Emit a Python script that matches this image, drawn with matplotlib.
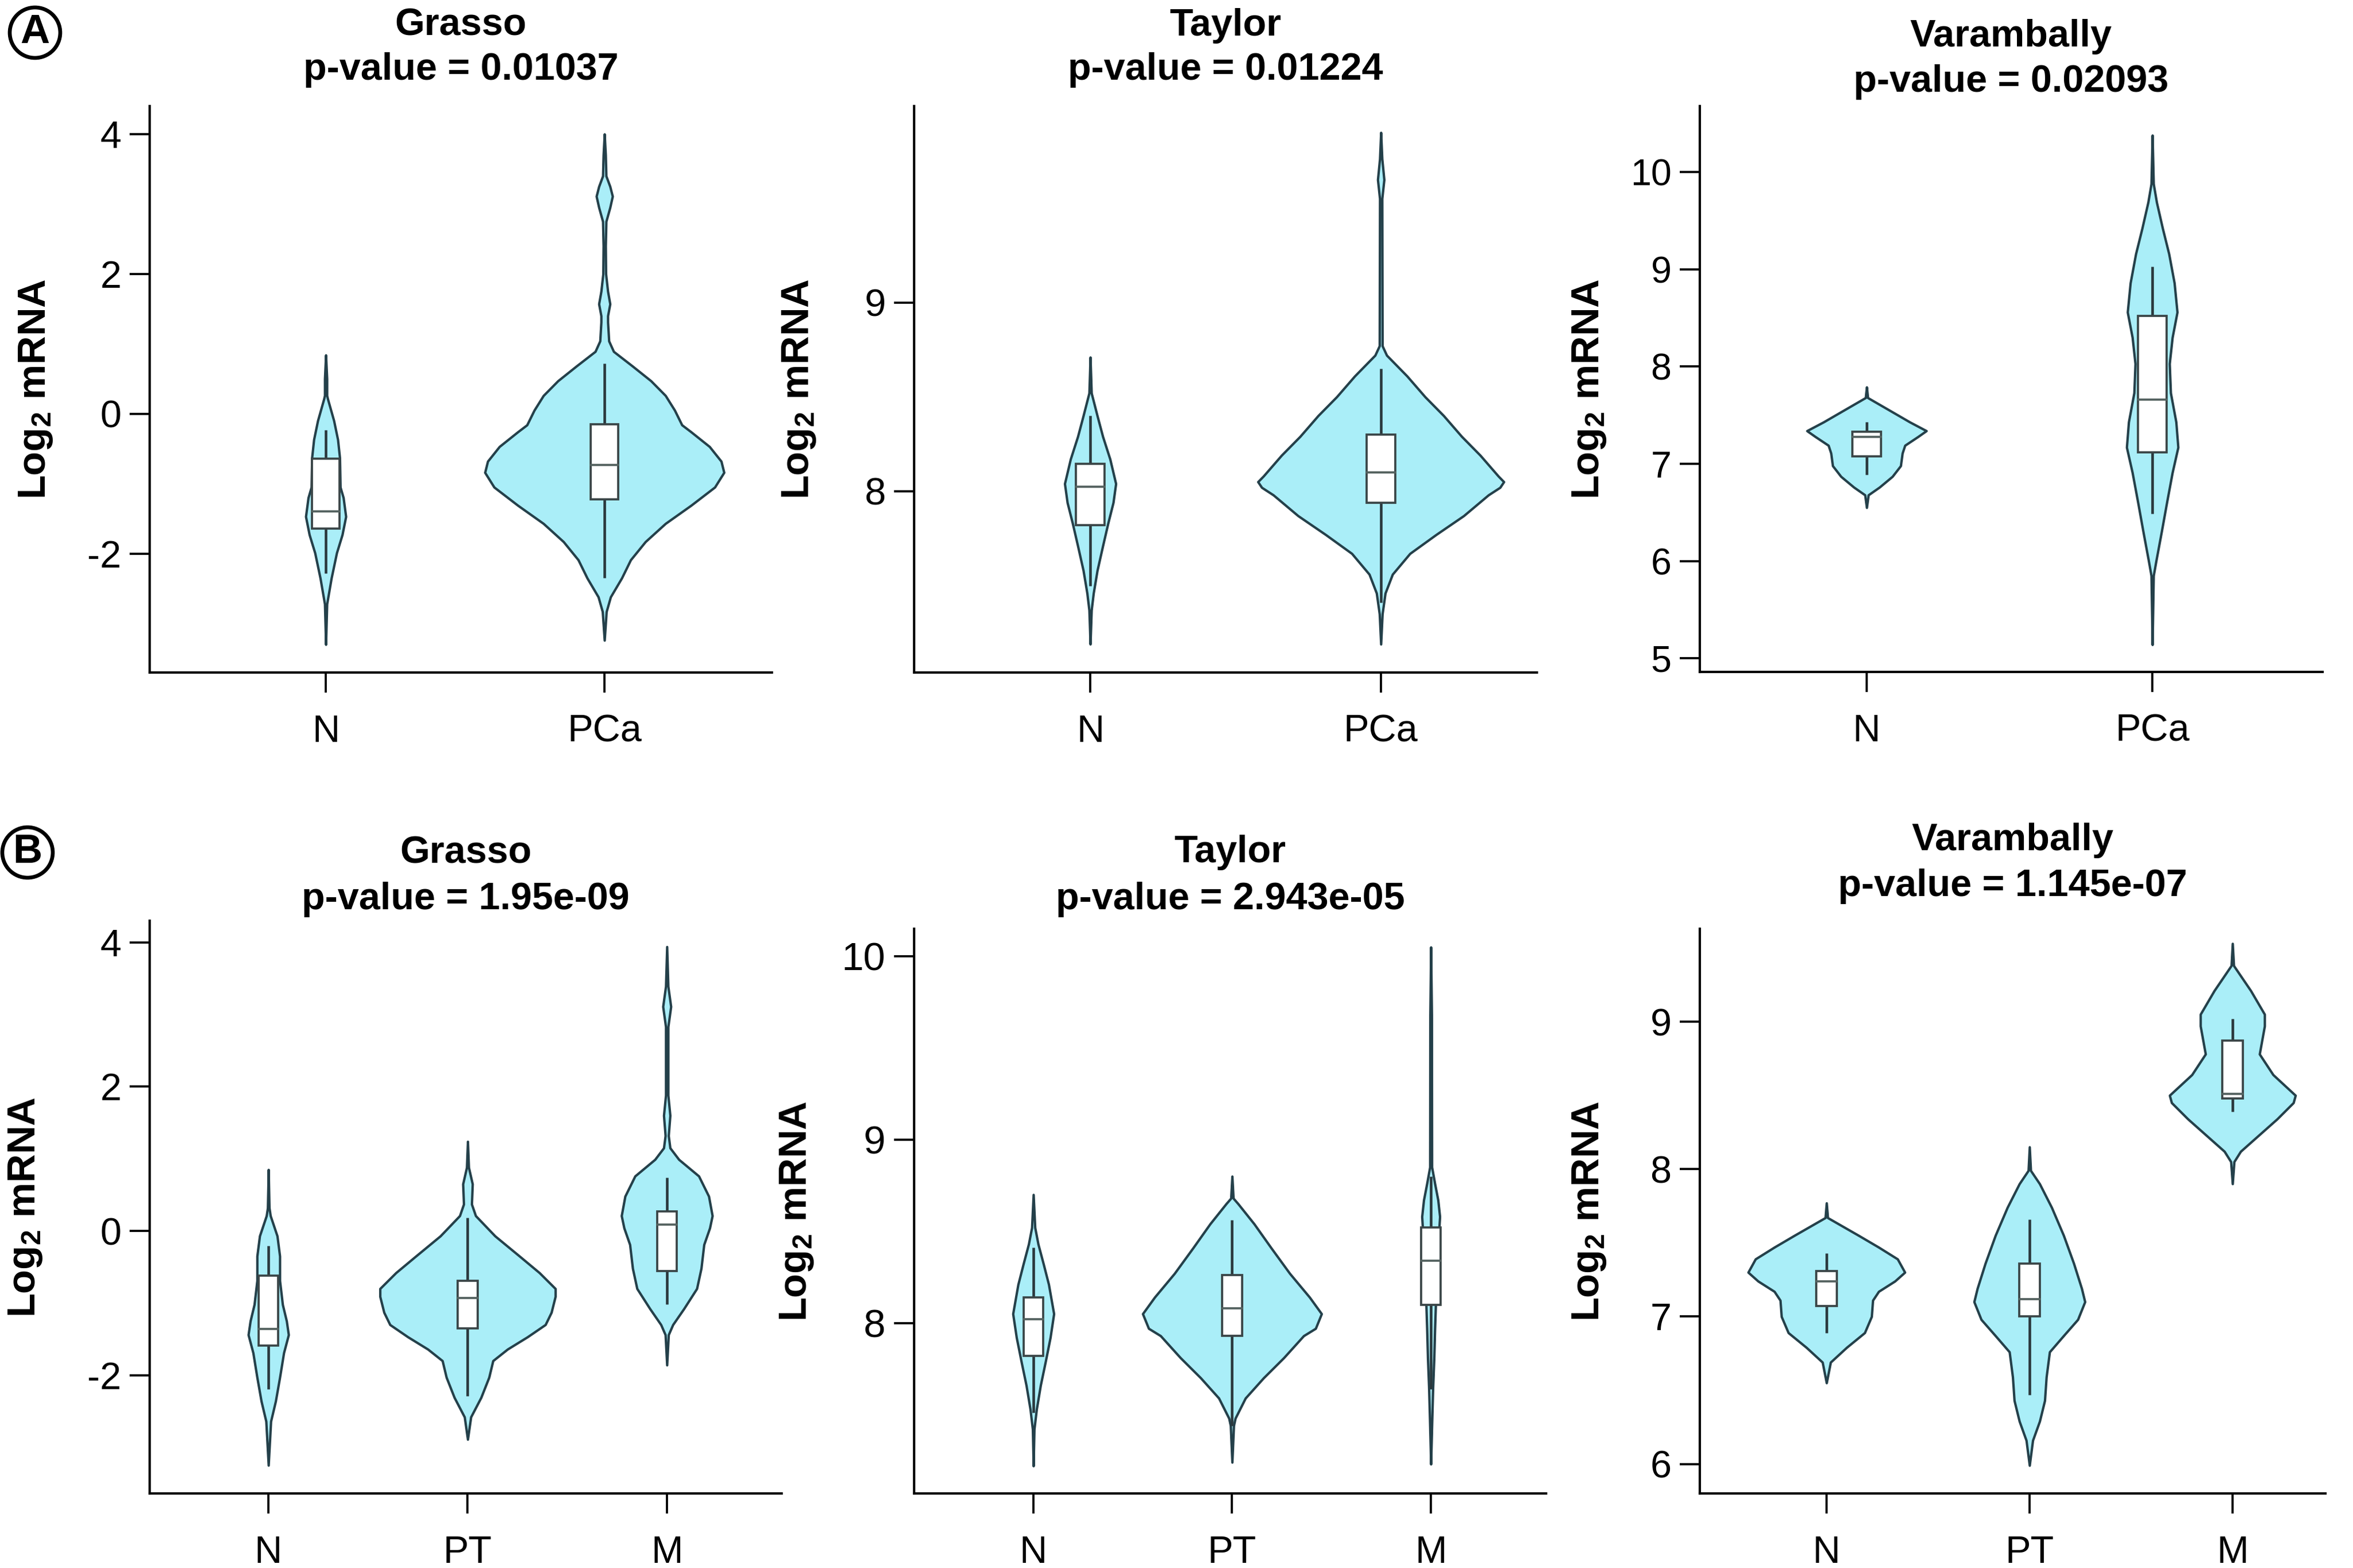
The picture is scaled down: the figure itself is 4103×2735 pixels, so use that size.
import numpy as np
import matplotlib
matplotlib.use("Agg")
import matplotlib.pyplot as plt
from matplotlib.patches import Rectangle, Ellipse

plt.rcParams['font.family'] = ['Liberation Sans', 'DejaVu Sans']
plt.rcParams['axes.unicode_minus'] = False
plt.rcParams['mathtext.default'] = 'regular'

# ---------------- data ----------------
CATS_A = ["N", "PCa"]
CATS_B = ["N", "PT", "M"]
TITLES = ["Grasso", "Taylor", "Varambally", "Grasso", "Taylor", "Varambally"]
PVALUES = ["0.01037", "0.01224", "0.02093", "1.95e-09", "2.943e-05", "1.145e-07"]
YTICKS = [[-2, 0, 2, 4], [8, 9], [5, 6, 7, 8, 9, 10],
          [-2, 0, 2, 4], [8, 9, 10], [6, 7, 8, 9]]
YLIMS = [(-3.70, 4.40), (7.04, 10.04), (4.86, 10.68),
         (-3.64, 4.30), (7.07, 10.15), (5.80, 9.63)]

# violin density profiles: y values and half-widths (x units)
A1_N_Y = [0.84, 0.50, 0.26, 0.21, -0.10, -0.37, -0.63, -1.05, -1.20, -1.47, -1.73, -1.99, -2.35, -2.72, -3.30]
A1_N_W = [0, 0.004, 0.004, 0.007, 0.029, 0.043, 0.050, 0.052, 0.063, 0.072, 0.059, 0.039, 0.020, 0.004, 0]
A1_PCA_Y = [4.00, 3.70, 3.40, 3.25, 3.11, 2.95, 2.75, 2.40, 2.00, 1.75, 1.57, 1.40, 1.31, 1.04, 0.89, 0.68,
            0.47, 0.26, 0.05, -0.16, -0.26, -0.47, -0.68, -0.84, -1.05, -1.31, -1.57, -1.83, -2.09, -2.35,
            -2.62, -2.83, -3.24]
A1_PCA_W = [0, 0.004, 0.006, 0.020, 0.029, 0.020, 0.006, 0.004, 0.005, 0.012, 0.020, 0.012, 0.012, 0.016,
            0.033, 0.101, 0.167, 0.219, 0.252, 0.278, 0.311, 0.377, 0.419, 0.429, 0.396, 0.311, 0.219, 0.147,
            0.094, 0.062, 0.022, 0.007, 0]

A2_N_Y = [8.71, 8.52, 8.40, 8.29, 8.17, 8.04, 7.94, 7.83, 7.71, 7.58, 7.46, 7.37, 7.19]
A2_N_W = [0, 0.004, 0.024, 0.043, 0.068, 0.088, 0.079, 0.061, 0.043, 0.024, 0.011, 0.004, 0]
A2_PCA_Y = [9.90, 9.76, 9.65, 9.55, 8.77, 8.72, 8.61, 8.50, 8.40, 8.29, 8.19, 8.08, 8.05, 8.02, 7.98,
            7.87, 7.77, 7.67, 7.56, 7.46, 7.35, 7.19]
A2_PCA_W = [0, 0.004, 0.011, 0.004, 0.005, 0.020, 0.090, 0.152, 0.216, 0.278, 0.342, 0.404, 0.423, 0.41,
            0.37, 0.285, 0.19, 0.10, 0.04, 0.015, 0.005, 0]

A3_N_Y = [7.79, 7.68, 7.51, 7.43, 7.34, 7.28, 7.19, 7.11, 6.98, 6.87, 6.76, 6.68, 6.55]
A3_N_W = [0, 0.004, 0.104, 0.151, 0.209, 0.180, 0.134, 0.125, 0.119, 0.090, 0.045, 0.006, 0]
A3_PCA_Y = [10.38, 9.88, 9.69, 9.42, 9.16, 8.86, 8.56, 8.30, 8.03, 7.73, 7.43, 7.17, 6.91, 6.61, 6.30,
            6.00, 5.85, 5.14]
A3_PCA_W = [0, 0.004, 0.015, 0.036, 0.058, 0.077, 0.087, 0.070, 0.060, 0.064, 0.083, 0.090, 0.070, 0.051,
            0.032, 0.013, 0.004, 0]

B1_N_Y = [0.85, 0.32, 0.21, -0.07, -0.35, -0.69, -1.02, -1.25, -1.44, -1.69, -2.03, -2.36, -2.64, -3.25]
B1_N_W = [0, 0.004, 0.010, 0.044, 0.057, 0.057, 0.071, 0.091, 0.101, 0.077, 0.057, 0.036, 0.012, 0]
B1_PT_Y = [1.24, 0.88, 0.65, 0.37, 0.21, -0.07, -0.35, -0.58, -0.80, -0.91, -1.13, -1.30, -1.47, -1.64,
           -1.80, -2.03, -2.31, -2.58, -2.89]
B1_PT_W = [0, 0.005, 0.024, 0.020, 0.040, 0.137, 0.26, 0.36, 0.44, 0.44, 0.42, 0.39, 0.30, 0.20, 0.127,
           0.107, 0.067, 0.016, 0]
B1_M_Y = [3.94, 3.39, 3.11, 2.83, 1.88, 1.60, 1.32, 1.15, 0.99, 0.76, 0.48, 0.21, 0.04, -0.19, -0.52,
          -0.80, -1.08, -1.30, -1.44, -1.86]
B1_M_W = [0, 0.006, 0.020, 0.006, 0.006, 0.016, 0.008, 0.016, 0.06, 0.16, 0.21, 0.228, 0.215, 0.186,
          0.172, 0.150, 0.085, 0.030, 0.008, 0]

B2_N_Y = [8.70, 8.52, 8.43, 8.32, 8.21, 8.05, 7.92, 7.79, 7.66, 7.53, 7.42, 7.22]
B2_N_W = [0, 0.008, 0.024, 0.051, 0.077, 0.103, 0.085, 0.061, 0.036, 0.016, 0.004, 0]
B2_PT_Y = [8.80, 8.68, 8.65, 8.54, 8.41, 8.27, 8.14, 8.05, 7.97, 7.93, 7.81, 7.70, 7.59, 7.48, 7.44, 7.24]
B2_PT_W = [0, 0.006, 0.030, 0.111, 0.196, 0.29, 0.39, 0.45, 0.42, 0.36, 0.26, 0.158, 0.067, 0.016, 0.008, 0]
B2_M_Y = [10.05, 9.68, 8.85, 8.76, 8.67, 8.58, 8.49, 8.36, 8.23, 8.10, 7.97, 7.81, 7.64, 7.48, 7.23]
B2_M_W = [0, 0.004, 0.005, 0.020, 0.036, 0.045, 0.040, 0.040, 0.040, 0.024, 0.020, 0.016, 0.010, 0.006, 0]

B3_N_Y = [7.77, 7.67, 7.55, 7.47, 7.39, 7.30, 7.24, 7.17, 7.11, 7.00, 6.89, 6.79, 6.69, 6.55]
B3_N_W = [0, 0.006, 0.158, 0.257, 0.35, 0.386, 0.337, 0.257, 0.228, 0.222, 0.188, 0.099, 0.02, 0]
B3_PT_Y = [8.15, 7.99, 7.90, 7.74, 7.55, 7.36, 7.19, 7.10, 6.98, 6.87, 6.76, 6.59, 6.43, 6.29, 6.16, 5.99]
B3_PT_W = [0, 0.006, 0.050, 0.109, 0.168, 0.218, 0.257, 0.273, 0.238, 0.168, 0.099, 0.083, 0.075, 0.050,
           0.016, 0]
B3_M_Y = [9.53, 9.38, 9.21, 9.05, 8.97, 8.78, 8.64, 8.50, 8.45, 8.34, 8.23, 8.12, 8.05, 7.90]
B3_M_W = [0, 0.006, 0.09, 0.158, 0.158, 0.133, 0.20, 0.31, 0.30, 0.22, 0.13, 0.04, 0.008, 0]

# box stats: whisker low, q1, median, q3, whisker high
A1_BOX = [[-2.28, -1.64, -1.40, -0.64, -0.23], [-2.35, -1.22, -0.73, -0.15, 0.72]]
A2_BOX = [[7.50, 7.82, 8.025, 8.146, 8.40], [7.41, 7.94, 8.10, 8.30, 8.65]]
A3_BOX = [[6.89, 7.08, 7.28, 7.33, 7.43], [6.49, 7.12, 7.66, 8.52, 9.03]]
B1_BOX = [[-2.19, -1.59, -1.36, -0.62, -0.21], [-2.29, -1.35, -0.93, -0.69, 0.18], [-1.02, -0.56, 0.09, 0.27, 0.74]]
B2_BOX = [[7.51, 7.82, 8.02, 8.14, 8.41], [7.44, 7.93, 8.08, 8.26, 8.56], [7.64, 8.10, 8.34, 8.52, 8.80]]
B3_BOX = [[6.89, 7.07, 7.24, 7.31, 7.43], [6.47, 7.00, 7.12, 7.36, 7.66], [8.39, 8.48, 8.51, 8.87, 9.02]]

PANELS = [
    (CATS_A, [(A1_N_Y, A1_N_W), (A1_PCA_Y, A1_PCA_W)], A1_BOX),
    (CATS_A, [(A2_N_Y, A2_N_W), (A2_PCA_Y, A2_PCA_W)], A2_BOX),
    (CATS_A, [(A3_N_Y, A3_N_W), (A3_PCA_Y, A3_PCA_W)], A3_BOX),
    (CATS_B, [(B1_N_Y, B1_N_W), (B1_PT_Y, B1_PT_W), (B1_M_Y, B1_M_W)], B1_BOX),
    (CATS_B, [(B2_N_Y, B2_N_W), (B2_PT_Y, B2_PT_W), (B2_M_Y, B2_M_W)], B2_BOX),
    (CATS_B, [(B3_N_Y, B3_N_W), (B3_PT_Y, B3_PT_W), (B3_M_Y, B3_M_W)], B3_BOX),
]

# ---------------- layout / style ----------------
W, H = 4103, 2735
fig = plt.figure(figsize=(W / 300, H / 300), dpi=300)

# axes boxes in pixels: left, right, top, bottom
AX_PX = [(261, 1346, 185, 1173), (1594, 2680, 185, 1173), (2964, 4050, 185, 1172),
         (261, 1363, 1606, 2605), (1594, 2696, 1620, 2605), (2964, 4055, 1620, 2605)]
XLIMS = [(-0.632, 1.601), (-0.606, 1.537), (-0.584, 1.596),
         (-0.596, 2.576), (-0.60, 2.58), (-0.624, 2.458)]
TITLE_BASE = [(62, 139), (62, 139), (81, 160), (1506, 1586), (1504, 1586), (1483, 1563)]
YLABEL_X = [63, 1393, 2772, 45, 1390, 2772]
YTICK_FS = [16, 16, 15.5, 16, 16.5, 16]

FILL = '#aaeef8'
EDGE = '#24404a'
BOXEDGE = '#3a4547'
MEDC = '#53615f'
WHISK = '#2a383d'
BOXW = 0.1


def fx(px):
    return px / W


def fy(py):
    return 1 - py / H


for i, (cats, violins, boxes) in enumerate(PANELS):
    l, r, t, b = AX_PX[i]
    ax = fig.add_axes([fx(l), fy(b), (r - l) / W, (b - t) / H])
    for j, ((ys, ws), st) in enumerate(zip(violins, boxes)):
        ys = np.asarray(ys)
        ws = np.asarray(ws)
        ax.fill_betweenx(ys, j - ws, j + ws, facecolor=FILL, edgecolor=EDGE,
                         linewidth=1.0, joinstyle='round', zorder=2)
        wlo, q1, med, q3, whi = st
        ax.plot([j, j], [wlo, q1], color=WHISK, lw=1.1, zorder=3, solid_capstyle='butt')
        ax.plot([j, j], [q3, whi], color=WHISK, lw=1.1, zorder=3, solid_capstyle='butt')
        ax.add_patch(Rectangle((j - BOXW / 2, q1), BOXW, q3 - q1, facecolor='white',
                               edgecolor=BOXEDGE, linewidth=0.9, zorder=4))
        ax.plot([j - BOXW / 2, j + BOXW / 2], [med, med], color=MEDC, lw=0.9, zorder=5)

    ax.set_xlim(*XLIMS[i])
    ax.set_ylim(*YLIMS[i])
    ax.set_xticks(range(len(cats)))
    ax.set_xticklabels(cats, fontsize=16)
    ax.set_yticks(YTICKS[i])
    ax.set_yticklabels([str(v) for v in YTICKS[i]], fontsize=YTICK_FS[i])
    for s in ['top', 'right']:
        ax.spines[s].set_visible(False)
    for s in ['left', 'bottom']:
        ax.spines[s].set_linewidth(1.0)
    ax.tick_params(axis='y', length=8.5, width=0.9, pad=3.4)
    ax.tick_params(axis='x', length=8.5, width=0.9, pad=9)

    cx = fx((l + r) / 2)
    tb1, tb2 = TITLE_BASE[i]
    fig.text(cx, fy(tb1), TITLES[i], ha='center', va='baseline', fontsize=16, fontweight='bold')
    fig.text(cx, fy(tb2), 'p-value = ' + PVALUES[i], ha='center', va='baseline',
             fontsize=16, fontweight='bold')
    fig.text(fx(YLABEL_X[i]), fy((t + b) / 2), r'Log$_2$ mRNA', rotation=90, ha='center',
             va='center', fontsize=16.5, fontweight='bold')

# circled panel letters
for letter, (cxp, cyp) in [("A", (61, 57)), ("B", (48, 1487))]:
    e = Ellipse((fx(cxp), fy(cyp)), width=2 * 44 / W, height=2 * 44 / H, transform=fig.transFigure,
                facecolor='none', edgecolor='black', linewidth=1.6)
    fig.add_artist(e)
    fig.text(fx(cxp), fy(cyp), letter, ha='center', va='center', fontsize=17, fontweight='bold')

fig.savefig('out.png', dpi=300)
